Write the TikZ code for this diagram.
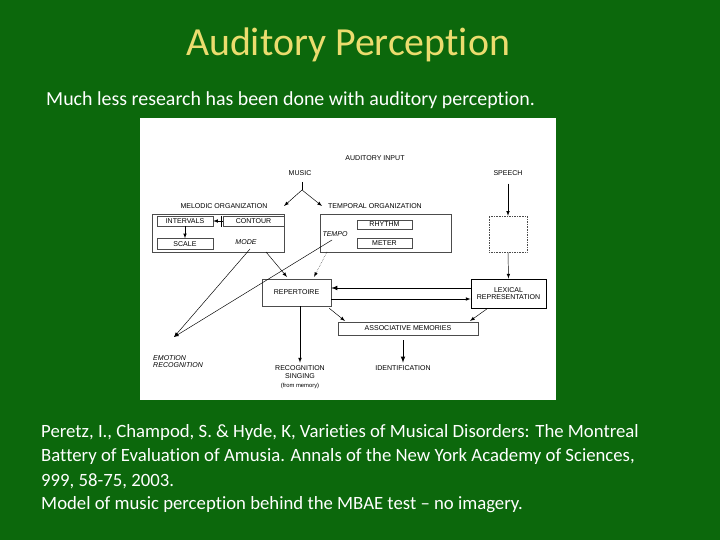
\documentclass[tikz,border=0pt]{standalone}
\usepackage{fontspec}
\setmainfont{Carlito}[Ligatures={NoCommon,TeX}]
\newfontfamily\diag{Liberation Sans}
\definecolor{bggreen}{RGB}{12,104,12}
\definecolor{titleyel}{RGB}{235,220,110}
\begin{document}
\begin{tikzpicture}[x=0.03cm,y=-0.03cm,
  lbl/.style={font=\diag\fontsize{6}{6.5}\selectfont, inner sep=0pt, text=black},
  ilbl/.style={lbl, font=\diag\itshape\fontsize{6}{6.5}\selectfont},
  bx/.style={draw=black!70, line width=0.4pt},
  ar/.style={-latex, line width=0.4pt, black},
  body/.style={font=\fontsize{16}{20.4}\selectfont, text=white, anchor=west, inner sep=0pt}]
\fill[bggreen] (0,0) rectangle (720,540);
\fill[white] (140,118) rectangle (556,400);
\node[font=\fontsize{34}{36}\selectfont, text=titleyel] (title) at (348,45) {Auditory Perception};
\node[body, font=\fontsize{17}{20}\selectfont] (sub) at (46,100) {Much less research has been done with auditory perception.};
\node[body] (r1) at (41,433) {Peretz, I., Champod, S. \& Hyde, K, Varieties of Musical Disorders: The Montreal};
\node[body] (r2) at (41,457) {Battery of Evaluation of Amusia. Annals of the New York Academy of Sciences,};
\node[body] (r3) at (41,481) {999, 58-75, 2003.};
\node[body] (r4) at (41,505) {Model of music perception behind the MBAE test -- no imagery.};
% labels
\node[lbl] (ai) at (375,158) {AUDITORY INPUT};
\node[lbl] (music) at (300,173) {MUSIC};
\node[lbl] (speech) at (508,173) {SPEECH};
\node[lbl] (melt) at (224,206) {MELODIC ORGANIZATION};
\node[lbl] (tempt) at (375,206) {TEMPORAL ORGANIZATION};
\draw[bx] (152,214) rectangle (284,252);
\draw[bx] (320,214) rectangle (451,252);
\node[bx, lbl, minimum width=1.68cm, minimum height=0.3cm] (int) at (185,221) {INTERVALS};
\node[bx, lbl, minimum width=1.83cm, minimum height=0.3cm] (cont) at (253.5,221) {CONTOUR};
\node[bx, lbl, minimum width=1.68cm, minimum height=0.33cm] (scale) at (185,244) {SCALE};
\node[ilbl] (mode) at (246,242) {MODE};
\node[ilbl] (tempo) at (335,234) {TEMPO};
\node[bx, lbl, minimum width=1.65cm, minimum height=0.28cm] (rhy) at (384.5,224.5) {RHYTHM};
\node[bx, lbl, minimum width=1.65cm, minimum height=0.3cm] (met) at (384.5,243) {METER};
\node[draw=black!70, densely dotted, minimum width=1.14cm, minimum height=1.08cm, inner sep=0pt] (sp) at (508,234) {};
\node[bx, lbl, minimum width=2.07cm, minimum height=0.81cm] (rep) at (296.5,292.5) {REPERTOIRE};
\node[draw=black, line width=0.8pt, lbl, minimum width=2.25cm, minimum height=0.87cm, align=center] (lex) at (508.5,293.5) {LEXICAL\\REPRESENTATION};
\node[bx, lbl, minimum width=4.2cm, minimum height=0.39cm] (assoc) at (408,328.5) {ASSOCIATIVE MEMORIES};
\node[ilbl, anchor=north west, align=left] (emo) at (153,355) {EMOTION\\RECOGNITION};
\node[lbl, anchor=north, align=center] (rec) at (300,365) {RECOGNITION\\[1pt]SINGING\\[1pt]{\fontsize{5}{6}\selectfont (from memory)}};
\node[lbl, anchor=north] (ident) at (403,365) {IDENTIFICATION};
% connectors
\coordinate (mtop) at (302,182);
\coordinate (msplit) at (302,190);
\coordinate (emoh) at (174,337);
\draw (mtop) -- (msplit);
\draw[ar] (msplit) -- (284,206);
\draw[ar] (msplit) -- (322,206);
\draw[ar] (cont.west) -- (int.east);
\draw (221,216) -- (221,227);
\draw[ar] (int.south) -- (scale.north);
\draw[ar] (speech.south) ++(0,8) -- (sp.north);
\draw[ar] (sp.south) -- (lex.north);
\draw[ar, line width=0.8pt] (lex.west |- 0,288) -- (rep.east |- 0,288);
\draw[ar] (rep.east |- 0,299) -- (lex.west |- 0,299);
\draw[ar] (rep.south east) ++(-2,2) -- (345,321);
\draw[ar] (lex.south west) ++(17,0) -- (470,321);
\draw[ar] (rep.south) ++(3.5,0) -- ([yshift=2pt]rec.north);
\draw[ar, line width=0.8pt] (assoc.south) ++(-5,5) -- ([yshift=2pt]ident.north);
\draw[ar] (250,249) -- (emoh);
\draw[ar] (332,240) -- (emoh);
\draw[ar] (266,252) -- (287,277);
\draw[ar, densely dotted] (327,252) -- (314,277);
\end{tikzpicture}
\end{document}
